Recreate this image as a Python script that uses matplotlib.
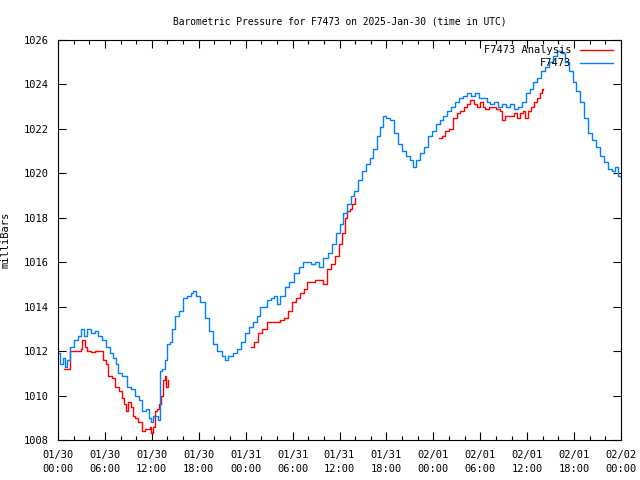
import matplotlib
matplotlib.use("Agg")
import matplotlib.pyplot as plt
import numpy as np

# hours since 2025-01-30 00:00 UTC, pressure in mbar
station_hours = [
    0.0, 0.3, 0.6, 0.9, 1.2, 1.5, 2.0, 2.5, 3.0, 3.3, 3.7, 4.2, 4.7, 5.1, 5.6,
    6.1, 6.6, 7.0, 7.4, 7.7, 8.2, 8.8, 9.3, 9.8, 10.3, 10.8, 11.2, 11.6, 11.9,
    12.1, 12.5, 12.8, 13.0, 13.3, 13.7, 13.9, 14.3, 14.6, 15.0, 15.5, 16.0,
    16.5, 17.0, 17.3, 17.7, 18.2, 18.8, 19.3, 19.8, 20.3, 21.0, 21.4, 21.8,
    22.4, 22.9, 23.4, 23.9, 24.4, 24.9, 25.4, 25.8, 26.3, 26.7, 27.2, 27.6,
    28.0, 28.4, 29.0, 29.6, 30.2, 30.8, 31.3, 31.8, 32.4, 32.9, 33.4, 33.9,
    34.5, 35.0, 35.5, 36.0, 36.5, 37.0, 37.5, 37.9, 38.4, 38.9, 39.4, 39.9,
    40.3, 40.8, 41.2, 41.6, 42.0, 42.5, 43.0, 43.5, 44.0, 44.5, 45.0, 45.4,
    45.8, 46.3, 46.8, 47.3, 47.8, 48.3, 48.8, 49.3, 49.8, 50.3, 50.8, 51.3,
    51.8, 52.3, 52.8, 53.3, 53.8, 54.3, 54.8, 55.3, 55.8, 56.3, 56.8, 57.3,
    57.8, 58.3, 58.8, 59.3, 59.8, 60.3, 60.8, 61.3, 61.8, 62.3, 62.8, 63.3,
    63.8, 64.3, 64.8, 65.3, 65.8, 66.3, 66.8, 67.3, 67.8, 68.3, 68.8, 69.3,
    69.8, 70.3, 70.8, 71.2, 71.6, 72.0,
]
station_mbar = [
    1011.9, 1011.4, 1011.7, 1011.3, 1011.6, 1012.2, 1012.5, 1012.7, 1013.0,
    1012.7, 1013.0, 1012.8, 1012.9, 1012.7, 1012.5, 1012.2, 1011.9, 1011.7,
    1011.4, 1011.0, 1010.9, 1010.4, 1010.3, 1010.0, 1009.8, 1009.3, 1009.4,
    1009.0, 1008.8, 1009.1, 1009.1, 1008.9, 1011.1, 1011.2, 1011.6, 1012.3,
    1012.4, 1013.0, 1013.6, 1013.8, 1014.4, 1014.5, 1014.6, 1014.7, 1014.5,
    1014.2, 1013.5, 1012.9, 1012.3, 1012.0, 1011.8, 1011.6, 1011.8, 1011.9,
    1012.1, 1012.4, 1012.8, 1013.1, 1013.3, 1013.6, 1014.0, 1014.0, 1014.3,
    1014.4, 1014.5, 1014.1, 1014.5, 1014.9, 1015.1, 1015.5, 1015.8, 1016.0,
    1016.0, 1015.9, 1016.0, 1015.8, 1016.2, 1016.4, 1016.8, 1017.3, 1017.7,
    1018.2, 1018.6, 1019.0, 1019.2, 1019.7, 1020.1, 1020.4, 1020.7, 1021.1,
    1021.7, 1022.1, 1022.6, 1022.5, 1022.4, 1021.8, 1021.3, 1021.0, 1020.8,
    1020.6, 1020.3, 1020.6, 1020.9, 1021.2, 1021.7, 1021.9, 1022.2, 1022.4,
    1022.6, 1022.8, 1023.0, 1023.2, 1023.4, 1023.5, 1023.6, 1023.5, 1023.6,
    1023.4, 1023.4, 1023.2, 1023.1, 1023.2, 1023.0, 1023.1, 1023.0, 1023.1,
    1022.9, 1023.0, 1023.2, 1023.6, 1023.8, 1024.1, 1024.3, 1024.6, 1024.8,
    1025.0, 1025.3, 1025.5, 1025.4, 1025.0, 1024.6, 1024.1, 1023.7, 1023.2,
    1022.5, 1021.8, 1021.5, 1021.2, 1020.8, 1020.5, 1020.2, 1020.1, 1020.3,
    1019.9, 1019.8,
]

# analysis comes in three separate runs
analysis1_hours = [
    0.77, 1.15, 1.53, 2.2, 2.9, 3.07, 3.45, 3.7, 4.2, 4.7, 5.4, 5.75, 6.1, 6.4,
    6.9, 7.3, 7.8, 8.2, 8.4, 8.7, 8.95, 9.3, 9.6, 9.85, 10.2, 10.7, 11.1, 11.5,
    11.8, 11.9, 12.1, 12.4, 12.7, 12.9, 13.2, 13.4, 13.7, 13.8, 14.1,
]
analysis1_mbar = [
    1011.2, 1011.2, 1012.0, 1012.0, 1012.1, 1012.5, 1012.2, 1012.0, 1011.95,
    1012.0, 1012.0, 1011.6, 1011.4, 1010.9, 1010.8, 1010.4, 1010.2, 1009.9,
    1009.6, 1009.3, 1009.7, 1009.5, 1009.1, 1009.0, 1008.8, 1008.4, 1008.5,
    1008.5, 1008.6, 1008.3, 1008.6, 1009.3, 1009.4, 1009.6, 1010.0, 1010.7,
    1010.9, 1010.4, 1010.7,
]
analysis2_hours = [
    24.7, 25.1, 25.6, 26.1, 26.7, 27.2, 27.7, 28.4, 28.9, 29.4, 29.9, 30.4,
    30.9, 31.5, 31.8, 32.4, 32.9, 33.4, 33.8, 33.9, 34.4, 34.9, 35.4, 35.9,
    36.3, 36.7, 37.0, 37.3, 37.6, 38.0,
]
analysis2_mbar = [
    1012.2, 1012.4, 1012.8, 1013.0, 1013.3, 1013.3, 1013.3, 1013.4, 1013.5,
    1013.8, 1014.2, 1014.4, 1014.6, 1014.8, 1015.1, 1015.1, 1015.2, 1015.2,
    1015.2, 1015.0, 1015.7, 1015.9, 1016.3, 1016.8, 1017.3, 1018.0, 1018.3,
    1018.4, 1018.6, 1018.9,
]
analysis3_hours = [
    48.7, 49.1, 49.5, 50.0, 50.5, 51.0, 51.4, 51.9, 52.3, 52.7, 53.2, 53.6,
    54.0, 54.3, 54.6, 55.1, 55.5, 56.0, 56.5, 56.8, 57.2, 57.8, 58.3, 58.7,
    59.1, 59.5, 59.7, 60.1, 60.5, 60.9, 61.3, 61.6, 61.9, 62.0,
]
analysis3_mbar = [
    1021.6, 1021.7, 1021.9, 1022.0, 1022.5, 1022.7, 1022.8, 1023.0, 1023.1,
    1023.3, 1023.1, 1023.0, 1023.2, 1023.0, 1022.9, 1023.0, 1023.0, 1022.9,
    1022.8, 1022.4, 1022.6, 1022.6, 1022.7, 1022.5, 1022.7, 1022.8, 1022.5,
    1022.8, 1023.0, 1023.2, 1023.4, 1023.6, 1023.8, 1023.75,
]

tick_hours = list(range(0, 73, 6))
tick_labels = [
    "01/30\n00:00", "01/30\n06:00", "01/30\n12:00", "01/30\n18:00",
    "01/31\n00:00", "01/31\n06:00", "01/31\n12:00", "01/31\n18:00",
    "02/01\n00:00", "02/01\n06:00", "02/01\n12:00", "02/01\n18:00",
    "02/02\n00:00",
]

plt.rcParams["font.family"] = ["DejaVu Sans Mono"]
plt.rcParams["font.size"] = 7

fig = plt.figure(figsize=(6.4, 4.8), dpi=100)
ax = fig.add_axes([58 / 640, 40 / 480, (621 - 58) / 640, 400 / 480])

nan = [np.nan]
a_hours = analysis1_hours + nan + analysis2_hours + nan + analysis3_hours
a_mbar = analysis1_mbar + nan + analysis2_mbar + nan + analysis3_mbar

ax.plot(a_hours, a_mbar, color="#ff0000", lw=1.0, label="F7473 Analysis",
        drawstyle="steps-post")
ax.plot(station_hours, station_mbar, color="#0080ff", lw=1.0, label="F7473",
        drawstyle="steps-post")

ax.set_xlim(0, 72)
ax.set_ylim(1008, 1026)
ax.set_xticks(tick_hours)
ax.set_xticklabels(tick_labels, linespacing=1.5)
ax.set_xticks(range(0, 73, 2), minor=True)
ax.set_yticks(range(1008, 1027, 2))
ax.tick_params(direction="in", top=True, right=True, length=6, width=0.8,
               pad=7, color="black", labelsize=7.5)
ax.tick_params(which="minor", direction="in", top=True, length=3, width=0.8)
for s in ax.spines.values():
    s.set_linewidth(0.8)

ax.set_ylabel("milliBars", fontsize=7.5)
ax.yaxis.set_label_coords(-0.085, 0.5)
ax.set_title("Barometric Pressure for F7473 on 2025-Jan-30 (time in UTC)",
             fontsize=6.9, pad=11)
ax.legend(loc="upper right", frameon=False, markerfirst=False, fontsize=7.5,
          handlelength=3.2, handletextpad=0.8, labelspacing=0.3,
          borderaxespad=0.2, borderpad=0.3, bbox_to_anchor=(0.995, 1.0))

fig.savefig("out.png", dpi=100)
